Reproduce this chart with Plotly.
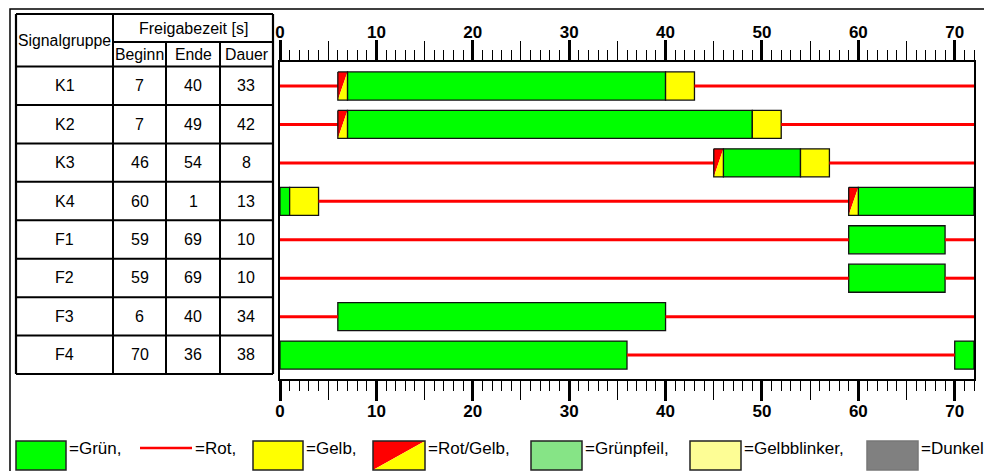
import plotly.graph_objects as go

W, H = 984, 471
CYCLE = 72
FONT = "Liberation Sans, Arial, sans-serif"

# ---------------- data ----------------
groups = ["K1", "K2", "K3", "K4", "F1", "F2", "F3", "F4"]
beginn = [7, 7, 46, 60, 59, 59, 6, 70]
ende = [40, 49, 54, 1, 69, 69, 40, 36]
dauer = [33, 42, 8, 13, 10, 10, 34, 38]
rotgelb_start = [6, 6, 45, 59, None, None, None, None]
rotgelb_dauer = 1
gelb_start = [40, 49, 54, 1, None, None, None, None]
gelb_dauer = 3

major_ticks = list(range(0, 71, 10))
mid_ticks = list(range(5, 71, 10))

header_main = "Signalgruppe"
header_group = "Freigabezeit [s]"
header_sub = ["Beginn", "Ende", "Dauer"]

legend_labels = ["=Grün,", "=Rot,", "=Gelb,", "=Rot/Gelb,", "=Grünpfeil,", "=Gelbblinker,", "=Dunkel"]

GREEN = "#00ff00"
YELLOW = "#ffff00"
RED = "#ff0000"
BAR_W = 0.73

# ---------------- helpers ----------------
def px(x):
    return x / W


def py(y):
    return 1 - y / H


def wrap(b, e):
    return [(b, e)] if b < e else [(b, CYCLE), (0, e)]


# ---------------- plot geometry ----------------
X0_PX, X1_PX = 280, 974
Y0_PX, Y1_PX = 62, 379
ROW0_PX, ROW_STEP = 86, 38.44
y_top = (Y0_PX - ROW0_PX) / ROW_STEP
y_bot = (Y1_PX - ROW0_PX) / ROW_STEP

fig = go.Figure()

# intervals
green_iv = [wrap(b, e) for b, e in zip(beginn, ende)]
gelb_iv = [[(s, s + gelb_dauer)] if s is not None else [] for s in gelb_start]
rg_iv = [[(s, s + rotgelb_dauer)] if s is not None else [] for s in rotgelb_start]

# red lines (gaps)
rx, ry = [], []
for i in range(len(groups)):
    ivs = sorted(green_iv[i] + gelb_iv[i] + rg_iv[i])
    cur = 0
    for a, b in ivs:
        if a > cur:
            rx += [cur, a, None]
            ry += [i, i, None]
        cur = max(cur, b)
    if cur < CYCLE:
        rx += [cur, CYCLE, None]
        ry += [i, i, None]
fig.add_trace(go.Scatter(x=rx, y=ry, mode="lines", line=dict(color=RED, width=3),
                         hoverinfo="skip", showlegend=False))

# green bars
gy, gb, gl = [], [], []
for i, ivs in enumerate(green_iv):
    for a, b in ivs:
        gy.append(i); gb.append(a); gl.append(b - a)
fig.add_trace(go.Bar(orientation="h", y=gy, base=gb, x=gl, width=BAR_W,
                     marker=dict(color=GREEN, line=dict(color="#111111", width=1.3)),
                     showlegend=False, hoverinfo="skip"))

# yellow bars
yy, yb, yl = [], [], []
for i, ivs in enumerate(gelb_iv):
    for a, b in ivs:
        yy.append(i); yb.append(a); yl.append(b - a)
fig.add_trace(go.Bar(orientation="h", y=yy, base=yb, x=yl, width=BAR_W,
                     marker=dict(color=YELLOW, line=dict(color="#111111", width=1.3)),
                     showlegend=False, hoverinfo="skip"))

# rot/gelb cells
h = BAR_W / 2
trx, tryy, tyx, tyy, ox, oy = [], [], [], [], [], []
for i, ivs in enumerate(rg_iv):
    for a, b in ivs:
        trx += [a, a, b, a, None]; tryy += [i + h, i - h, i - h, i + h, None]
        tyx += [a, b, b, a, None]; tyy += [i + h, i - h, i + h, i + h, None]
        ox += [a, b, b, a, a, None]; oy += [i - h, i - h, i + h, i + h, i - h, None]
fig.add_trace(go.Scatter(x=trx, y=tryy, fill="toself", fillcolor=RED, mode="none",
                         showlegend=False, hoverinfo="skip"))
fig.add_trace(go.Scatter(x=tyx, y=tyy, fill="toself", fillcolor=YELLOW, mode="none",
                         showlegend=False, hoverinfo="skip"))
fig.add_trace(go.Scatter(x=ox, y=oy, mode="lines", line=dict(color="#111111", width=1.3),
                         showlegend=False, hoverinfo="skip"))

# dummy traces for overlay axes
for ax in ["x2", "x3", "x4"]:
    fig.add_trace(go.Scatter(x=[None], y=[None], xaxis=ax, yaxis="y", showlegend=False))

dom_x = [px(X0_PX), px(X1_PX)]
dom_y = [py(Y1_PX), py(Y0_PX)]
tickfont = dict(family=FONT, size=17, color="black", weight="bold")
common = dict(range=[0, CYCLE], domain=dom_x, showgrid=False, zeroline=False,
              fixedrange=True, automargin=False)
minor = dict(tickmode="linear", tick0=0, dtick=1, ticks="outside", ticklen=10,
             tickwidth=1.2, tickcolor="black")
fig.update_layout(
    width=W, height=H, margin=dict(l=0, r=0, t=0, b=0, pad=0, autoexpand=False),
    paper_bgcolor="white", plot_bgcolor="white", barmode="overlay",
    font=dict(family=FONT, color="black"),
    xaxis=dict(**common, side="bottom", anchor="y", tickmode="array", tickvals=major_ticks,
               ticks="outside", ticklen=20, tickwidth=2.5, tickcolor="black",
               showline=True, linecolor="black", linewidth=1.5, tickfont=tickfont,
               ticklabelstandoff=-4, minor=minor),
    xaxis2=dict(**common, side="top", anchor="y", overlaying="x", tickmode="array",
                tickvals=major_ticks, ticks="outside", ticklen=20, tickwidth=2.5,
                tickcolor="black", showline=True, linecolor="black", linewidth=1.5,
                tickfont=tickfont, ticklabelstandoff=-5, minor=minor),
    xaxis3=dict(**common, side="top", anchor="y", overlaying="x", tickmode="array",
                tickvals=mid_ticks, ticks="outside", ticklen=20, tickwidth=1.3,
                tickcolor="black", showticklabels=False, showline=False),
    xaxis4=dict(**common, side="bottom", anchor="y", overlaying="x", tickmode="array",
                tickvals=mid_ticks, ticks="outside", ticklen=20, tickwidth=1.3,
                tickcolor="black", showticklabels=False, showline=False),
    yaxis=dict(range=[y_bot, y_top], domain=dom_y, showgrid=False, zeroline=False,
               showticklabels=False, ticks="", showline=True, mirror=True,
               linecolor="black", linewidth=1.5, fixedrange=True, automargin=False),
)

shapes = []
annotations = []

# outer frame
shapes.append(dict(type="rect", xref="paper", yref="paper", x0=px(10), x1=px(1010),
                   y0=py(500), y1=py(9), line=dict(color="black", width=1.5)))

# ---------------- table ----------------
TX = [16, 113, 166, 220, 273]
T_TOP, T_MID, T_HDR = 14, 42, 66.5
row_edges = [T_HDR + ROW_STEP * k for k in range(len(groups) + 1)]
T_BOT = row_edges[-1]


def hline(x0, x1, y, w=2):
    shapes.append(dict(type="line", xref="paper", yref="paper", x0=px(x0), x1=px(x1),
                       y0=py(y), y1=py(y), line=dict(color="black", width=w)))


def vline(x, y0, y1, w=2):
    shapes.append(dict(type="line", xref="paper", yref="paper", x0=px(x), x1=px(x),
                       y0=py(y0), y1=py(y1), line=dict(color="black", width=w)))


hline(TX[0], TX[-1], T_TOP, 2.2)
hline(TX[1], TX[-1], T_MID)
for k, yv in enumerate(row_edges):
    hline(TX[0], TX[-1], yv, 2.2 if k == len(row_edges) - 1 else 2)
vline(TX[0], T_TOP, T_BOT, 2.2)
vline(TX[1], T_TOP, T_BOT)
vline(TX[2], T_MID, T_BOT)
vline(TX[3], T_MID, T_BOT)
vline(TX[4], T_TOP, T_BOT, 2.2)


def text(x, y, s, size, anchor="center"):
    annotations.append(dict(xref="paper", yref="paper", x=px(x), y=py(y), text=s,
                            showarrow=False, xanchor=anchor, yanchor="middle",
                            font=dict(family=FONT, size=size, color="black")))


text((TX[0] + TX[1]) / 2, (T_TOP + T_HDR) / 2, header_main, 15.8)
text((TX[1] + TX[4]) / 2, (T_TOP + T_MID) / 2 + 1, header_group, 16)
for j, s in enumerate(header_sub):
    text((TX[j + 1] + TX[j + 2]) / 2, (T_MID + T_HDR) / 2, s, 15.8)
for i, g in enumerate(groups):
    yc = (row_edges[i] + row_edges[i + 1]) / 2
    text((TX[0] + TX[1]) / 2, yc, g, 16)
    text((TX[1] + TX[2]) / 2, yc, str(beginn[i]), 16)
    text((TX[2] + TX[3]) / 2, yc, str(ende[i]), 16)
    text((TX[3] + TX[4]) / 2, yc, str(dauer[i]), 16)

# ---------------- legend ----------------
LY0, LY1, LT = 441, 470, 448
boxes = [(16, 66), None, (253, 303), (373, 425), (531, 582), (690, 741), (867, 918)]
fills = [GREEN, None, YELLOW, None, "#86e486", "#fdfd95", "#808080"]
text_x = [67, 193, 304, 426, 583, 742, 919]

for k, b in enumerate(boxes):
    if b is None:
        continue
    x0, x1 = b
    if legend_labels[k] == "=Rot/Gelb,":
        shapes.append(dict(type="path", xref="paper", yref="paper",
                           path=f"M {px(x0)},{py(LY1)} L {px(x0)},{py(LY0)} L {px(x1)},{py(LY0)} Z",
                           fillcolor=RED, line=dict(width=0)))
        shapes.append(dict(type="path", xref="paper", yref="paper",
                           path=f"M {px(x0)},{py(LY1)} L {px(x1)},{py(LY0)} L {px(x1)},{py(LY1)} Z",
                           fillcolor=YELLOW, line=dict(width=0)))
        shapes.append(dict(type="rect", xref="paper", yref="paper", x0=px(x0), x1=px(x1),
                           y0=py(LY1), y1=py(LY0), line=dict(color="#222222", width=1.5)))
    else:
        lc = "#777777" if fills[k] == "#808080" else "#222222"
        shapes.append(dict(type="rect", xref="paper", yref="paper", x0=px(x0), x1=px(x1),
                           y0=py(LY1), y1=py(LY0), fillcolor=fills[k],
                           line=dict(color=lc, width=1.5)))
# red line legend
shapes.append(dict(type="line", xref="paper", yref="paper", x0=px(140), x1=px(192),
                   y0=py(448), y1=py(448), line=dict(color=RED, width=2.5)))

for k, s in enumerate(legend_labels):
    text(text_x[k], LT, s, 17, anchor="left")

fig.update_layout(shapes=shapes, annotations=annotations)

fig.write_html("out.html", config={"displayModeBar": False},
               post_script="document.body.style.margin='0';document.body.style.overflow='hidden';")
